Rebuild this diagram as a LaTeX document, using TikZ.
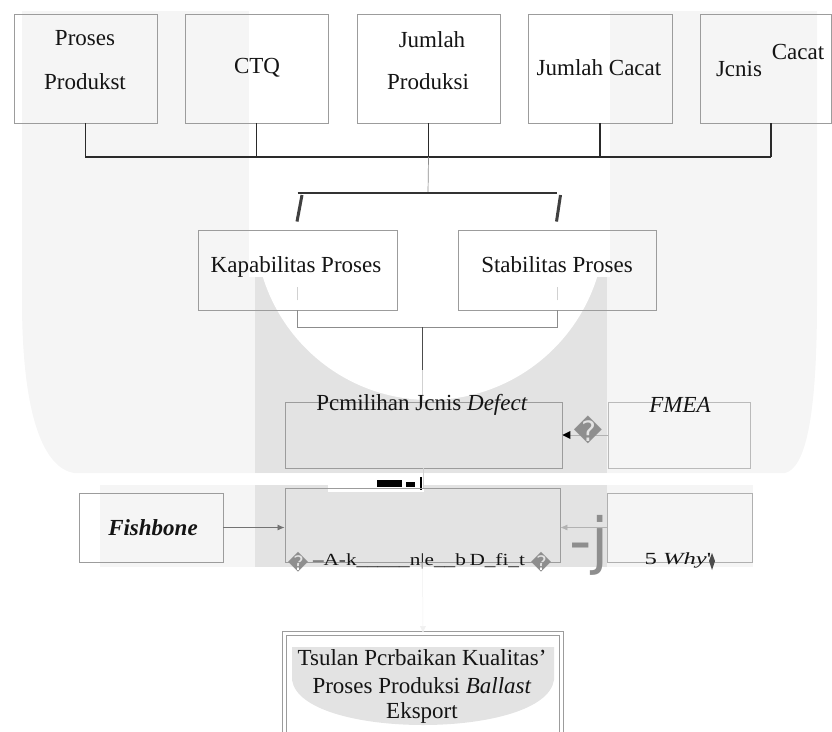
\documentclass[tikz,border=0pt]{standalone}
\usepackage{graphicx}
\usepackage{fontspec}
\setmainfont{Liberation Serif}
\newfontfamily\djv{DejaVu Sans}
\usetikzlibrary{calc,arrows.meta}
\definecolor{wmlight}{HTML}{F5F5F5}
\definecolor{wmdark}{HTML}{E3E3E3}
\definecolor{boxc}{HTML}{9C9C9C}
\definecolor{linec}{HTML}{2A2A2A}
\definecolor{glyphc}{HTML}{8E8E8E}
\begin{document}
\begin{tikzpicture}[x=1pt,y=-1pt,
  box/.style={draw=boxc,line width=0.9pt,inner sep=0pt},
  txt/.style={inner sep=0pt,font=\fontsize{23}{27}\selectfont,text=black!92},
  conn/.style={draw=linec,line width=1.1pt},
  faint/.style={draw=black!45,line width=0.7pt},
  vfaint/.style={draw=black!18,line width=0.6pt},
  slantst/.style={draw=black!75,line width=3pt},
  tip/.style={-{Latex[length=7pt,width=6pt]}},
  qglyph/.style={inner sep=0pt,text=glyphc,font=\djv\fontsize{#1}{#1}\selectfont}
]
\useasboundingbox (0,0) rectangle (832,731);
\clip (0,0) rectangle (832,731);
% ---- watermark background ----
\fill[wmlight] (22,11) -- (817,11) -- (817,300) .. controls (817,420) and (805,468) .. (785,473)
   -- (74,473) .. controls (45,468) and (22,420) .. (22,300) -- cycle;
\fill[white] (249,8) rectangle (610,277);
\fill[wmdark] (255,277) rectangle (607,473);
\fill[white] (430,225) circle (175);
\fill[wmlight] (100,485) rectangle (753,567);
\fill[wmdark] (255,485) rectangle (607,567);
\fill[white] (328,484) rectangle (424,492);
\fill[wmdark] (292,647) -- (554,647) -- (554,680) .. controls (545,740) and (301,740) .. (292,680) -- cycle;

% ---- top boxes ----
\node[box,minimum width=143pt,minimum height=109pt] (b1) at (85.5,68.5) {};
\node[box,minimum width=143pt,minimum height=109pt] (b2) at (256.5,68.5) {};
\node[box,minimum width=143pt,minimum height=109pt] (b3) at (428.5,68.5) {};
\node[box,minimum width=144pt,minimum height=109pt] (b4) at (600,68.5) {};
\node[box,minimum width=131pt,minimum height=109pt] (b5) at (765.5,68.5) {};
\node[txt] (t1a) at (85,38) {Proses};
\node[txt] (t1b) at (85,82) {Produkst};
\node[txt] (t2) at (257,68) {CTQ};
\node[txt] (t3a) at (432,40) {Jumlah};
\node[txt] (t3b) at (428,82) {Produksi};
\node[txt] (t4) at (599,68) {Jumlah Cacat};
\node[txt] (t5a) at (739,69) {Jcnis};
\node[txt] (t5b) at (798,52) {Cacat};

% ---- top bus ----
\coordinate (tap5) at (771,157);
\coordinate (br) at (428,193);
\draw[conn] (b1.south) |- (tap5);
\draw[conn] (b2.south) -- (b2.south |- tap5);
\draw[conn] (b3.south) -- (b3.south |- tap5);
\draw[conn] (b4.south) -- (b4.south |- tap5);
\draw[conn] (tap5) -- (tap5 |- b5.south);
\draw[faint] (b3.south |- tap5) -- (br);

% ---- second level ----
\node[box,minimum width=199pt,minimum height=80pt] (kap) at (297.5,270) {};
\node[box,minimum width=198pt,minimum height=80pt] (stb) at (557,270) {};
\node[txt] (tk) at (296,267) {Kapabilitas Proses};
\node[txt] (ts) at (557,265) {Stabilitas Proses};
\draw[draw=black!80,line width=1.8pt] (kap.north |- br) -- (stb.north |- br);
\draw[slantst] ($(kap.north |- br)+(4.5,2)$) -- ($(kap.north)+(-0.5,-8)$);
\draw[slantst] ($(stb.north |- br)+(3.5,2)$) -- ($(stb.north)+(-0.5,-8)$);
\draw[vfaint] ($(kap.south)+(0,-10)$) -- ($(kap.south)+(0,-23)$);
\draw[vfaint] ($(stb.south)+(0,-10)$) -- ($(stb.south)+(0,-23)$);
\coordinate (lb) at (422,327);
\draw[faint] (kap.south) -- (kap.south |- lb) -- (stb.south |- lb) -- (stb.south);

% ---- Pemilihan / FMEA ----
\node[box,minimum width=277pt,minimum height=66pt] (pem) at (423.5,435) {};
\node[box,minimum width=142pt,minimum height=66pt,draw=boxc!70] (fmea) at (679,435) {};
\draw[draw=black!70,line width=1pt] (lb) -- ($(lb)+(0,43)$);
\draw[vfaint] ($(lb)+(0,43)$) -- (lb |- pem.north);
\node[txt] (tpem) at (422,405) {Pcmilihan Jcnis \textit{Defect}};
\node[txt] (tfmea) at (680,405) {\textit{FMEA}};
\draw[draw=black!30,line width=0.6pt] (fmea.west) -- (fmea.west -| pem.east);
\fill[black] (fmea.west -| pem.east) -- ++(8,-4) -- ++(0,8) -- cycle;
\node[qglyph=28] (q1) at (588,430) {\char"FFFD};

% ---- black artefacts ----
\fill[black] (377,480) rectangle (402,487);
\fill[black] (406,482) rectangle (415,487);
\fill[black] (420,477) rectangle (422,490);

% ---- third level ----
\node[box,minimum width=275pt,minimum height=74pt] (mid) at (422.5,525) {};
\node[box,minimum width=144pt,minimum height=69pt] (fish) at (151,527.5) {};
\node[box,minimum width=145pt,minimum height=69pt,draw=boxc!80] (why) at (679.5,527.5) {};
\node[txt] (tfish) at (153,528) {\textbf{\textit{Fishbone}}};
\draw[vfaint] (pem.south) -- (pem.south |- mid.north);
\draw[draw=black!55,line width=0.8pt,tip] (fish.east) -- (fish.east -| mid.west);
\draw[draw=black!30,line width=0.6pt,tip] (why.west) -- (why.west -| mid.east);
\node[qglyph=20] (q2) at (298,562) {\char"FFFD};
\node[qglyph=20] (q3) at (541,562) {\char"FFFD};
\node[txt,font=\fontsize{17}{20}\selectfont] (garb) at (419,561) {\scalebox{1.25}[1]{\textendash A-k\_\_\_\_\_n|e\_\_b\,D\_fi\_t}};
\node[inner sep=0pt,anchor=base west,text=glyphc,font=\djv\fontsize{62}{62}\selectfont] (jj) at (569,562) {-j};
\node[txt,font=\fontsize{17}{20}\selectfont] (twhy) at (678,560) {\scalebox{1.45}[1]{5 \textit{Why}\textquotesingle}};
\fill[black!70] (712,553) -- (715,561) -- (712,570) -- (709,561) -- cycle;

% ---- bottom ----
\node[box,minimum width=277pt,minimum height=107pt,double=white,double distance=2.5pt,line width=0.8pt] (tsu) at (423,687) {};
\draw[draw=black!6,line width=0.5pt,tip] (mid.south) -- (tsu.north);
\node[txt] (u1) at (422,658) {Tsulan Pcrbaikan Kualitas'};
\node[txt] (u2) at (422,686) {Proses Produksi \textit{Ballast}};
\node[txt] (u3) at (422,713) {Eksport};
\end{tikzpicture}
\end{document}
